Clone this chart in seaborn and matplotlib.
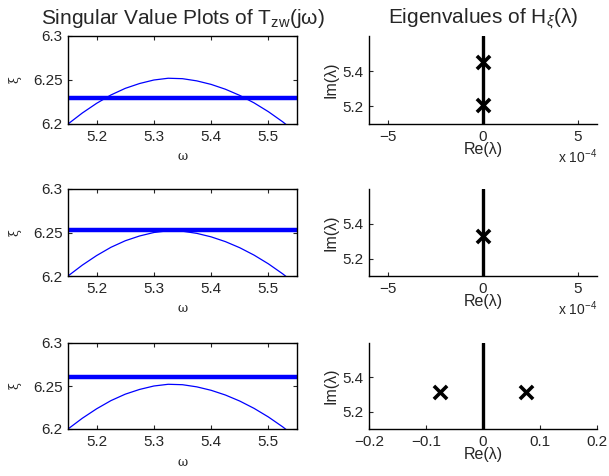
import matplotlib
matplotlib.use('Agg')
import matplotlib.pyplot as plt
import matplotlib.ticker as mticker
import numpy as np
import pandas as pd
import seaborn as sns

# singular value curve sigma(T_zw(jw))
omega = [5.15, 5.175, 5.2, 5.225, 5.25, 5.275, 5.3, 5.325, 5.35,
         5.375, 5.4, 5.425, 5.45, 5.475, 5.5, 5.525, 5.55]
sigma = [6.2000, 6.2125, 6.2235, 6.2330, 6.2405, 6.2460, 6.2500, 6.2520, 6.2515,
         6.2490, 6.2450, 6.2395, 6.2325, 6.2240, 6.2140, 6.2025, 6.1895]

# test levels xi for each row
xi_levels = [6.23, 6.2525, 6.26]

# imaginary-axis eigenvalues of the Hamiltonian for each row
eig_re = [[0.0, 0.0], [0.0], [-0.076, 0.076]]
eig_im = [[5.206, 5.452], [5.328], [5.318, 5.318]]

# x ranges of the eigenvalue plots
re_limits = [(-6e-4, 6e-4), (-6e-4, 6e-4), (-0.2, 0.2)]
re_ticks = [[-5e-4, 0, 5e-4], [-5e-4, 0, 5e-4], [-0.2, -0.1, 0, 0.1, 0.2]]
re_scale = [1e4, 1e4, 1.0]

sns.set_style('ticks')
plt.rcParams['font.family'] = ['Liberation Sans', 'DejaVu Sans']
plt.rcParams['mathtext.fontset'] = 'custom'
plt.rcParams['mathtext.rm'] = 'Liberation Sans'
plt.rcParams['mathtext.it'] = 'Liberation Sans:italic'
plt.rcParams['axes.unicode_minus'] = True

fig = plt.figure(figsize=(6.09, 4.76), dpi=100)
W, H = 609.0, 476.0
rows_px = [(36, 124), (189, 276), (343, 429)]
left_px = (68, 297)
right_px = (369, 597)

curve = pd.DataFrame({'omega': omega, 'sigma': sigma})

for i, (top, bot) in enumerate(rows_px):
    b = 1 - bot / H
    h = (bot - top) / H
    axl = fig.add_axes([left_px[0] / W, b, (left_px[1] - left_px[0]) / W, h])
    axr = fig.add_axes([right_px[0] / W, b, (right_px[1] - right_px[0]) / W, h])

    # left: singular value plot
    sns.lineplot(data=curve, x='omega', y='sigma', ax=axl, color='#0000ff', lw=0.9)
    axl.axhline(xi_levels[i], color='#0000ff', lw=3.2)
    axl.set_xlim(5.15, 5.55)
    axl.set_ylim(6.2, 6.3)
    axl.set_xticks([5.2, 5.3, 5.4, 5.5])
    axl.set_yticks([6.2, 6.25, 6.3])
    axl.yaxis.set_major_formatter(mticker.FormatStrFormatter('%g'))
    axl.tick_params(direction='in', top=True, right=True, labelsize=11, length=3, width=0.8, pad=4)
    for sp in axl.spines.values():
        sp.set_visible(True)
        sp.set_linewidth(1.0)
        sp.set_color('black')
    axl.set_xlabel('ω', family='DejaVu Serif', fontsize=9, labelpad=5)
    axl.set_ylabel('ξ', family='DejaVu Serif', fontsize=9, labelpad=8)

    # right: eigenvalue plot
    axr.axvline(0, color='black', lw=2.4)
    ev = pd.DataFrame({'re': eig_re[i], 'im': eig_im[i]})
    sns.scatterplot(data=ev, x='re', y='im', ax=axr, marker='x', color='black',
                    s=90, linewidth=2.6, zorder=5)
    axr.set_xlim(*re_limits[i])
    axr.set_ylim(5.1, 5.6)
    axr.set_xticks(re_ticks[i])
    axr.set_yticks([5.2, 5.4])
    sc = re_scale[i]
    axr.xaxis.set_major_formatter(mticker.FuncFormatter(
        lambda v, p, sc=sc: ('%g' % round(v * sc, 6)).replace('-', '\u2212')))
    axr.yaxis.set_major_formatter(mticker.FormatStrFormatter('%g'))
    axr.tick_params(direction='in', labelsize=11, length=3, width=0.8, pad=4)
    sns.despine(ax=axr)
    axr.spines['left'].set_color('black')
    axr.spines['bottom'].set_color('black')
    axr.spines['left'].set_linewidth(1.0)
    axr.spines['bottom'].set_linewidth(1.0)
    axr.set_xlabel('Re(λ)', fontsize=11.5, labelpad=-1)
    axr.set_ylabel('Im(λ)', fontsize=11.5, labelpad=3)
    if sc != 1.0:
        axr.text(1.0, -0.27, 'x 10$^{-4}$', transform=axr.transAxes,
                 ha='right', va='top', fontsize=10)

    if i == 0:
        axl.set_title('Singular Value Plots of T$_{\\rm zw}$(jω)', fontsize=15, pad=9)
        axr.set_title('Eigenvalues of H$_{\\xi}$(λ)', fontsize=15, pad=9)

fig.savefig('out.png', dpi=100)
